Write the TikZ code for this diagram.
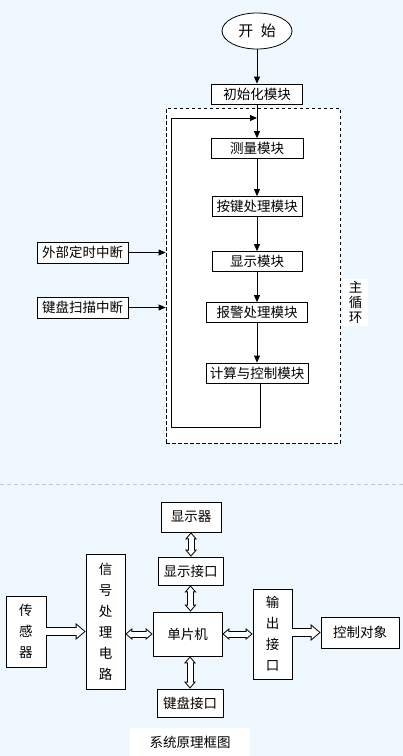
\documentclass[tikz,border=0pt]{standalone}
\usepackage{fontspec}
\setmainfont{Noto Sans CJK SC}
\usetikzlibrary{shapes.geometric,arrows.meta}
\definecolor{paper}{RGB}{240,248,255}
\definecolor{rule}{RGB}{192,197,204}
\tikzset{%
  every block/.style={
    draw,
    fill=white,
    inner sep=0pt,
    minimum height=20pt,
    font=\fontsize{13.5}{15}\selectfont
  },
  block tall/.style={
    align=center,
    font=\fontsize{13.5}{21}\selectfont
  },
  hollow/.style={
    line width=9pt,
    -{Triangle[length=10pt,width=17pt,line width=0pt]},
    postaction={draw=white, line width=7pt, shorten >=1.5pt,
      -{Triangle[length=7.5pt,width=12.7pt,line width=0pt]}}
  },
  hollow both/.style={
    line width=7pt,
    {Triangle[length=7pt,width=12pt,line width=0pt]}-{Triangle[length=7pt,width=12pt,line width=0pt]},
    postaction={draw=white, line width=5pt, shorten >=1.5pt, shorten <=1.5pt,
      {Triangle[length=4.5pt,width=7.7pt,line width=0pt]}-{Triangle[length=4.5pt,width=7.7pt,line width=0pt]}}
  },
}
\begin{document}
\begin{tikzpicture}[x=1pt, y=-1pt, line width=0.8pt, >={Triangle[length=7pt,width=6pt]}]

\fill [paper] (0,0) rectangle (403,756);
\useasboundingbox (0,0) rectangle (403,756);

% main loop
\node [draw, fill=white, dash pattern=on 3.5pt off 2.5pt, minimum width=174pt, minimum height=335pt] (loop) at (253,275.5) {};
\node [fill=white, inner sep=0pt, minimum width=25pt, minimum height=47pt, block tall, font=\fontsize{13.5}{15}\selectfont] (looplabel) at (355.5,302.5) {主\\循\\环};

\node [draw, ellipse, fill=white, minimum width=70pt, minimum height=36pt, font=\fontsize{15}{16}\selectfont] (start) at (257,31) {开\enspace 始};

\foreach \m/\l/\y/\w in {init/初始化模块/94/91, measure/测量模块/148.5/92, key/按键处理模块/206.5/90, show/显示模块/261.5/90, alarm/报警处理模块/312.5/101, calc/计算与控制模块/373/102}
  \node [every block, minimum width=\w pt] (\m) at (257,\y) {\l};

\draw [->] (start) -- (init);
\foreach \a/\b in {init/measure, measure/key, key/show, show/alarm, alarm/calc}
  \draw [->] (\a) -- (\b);

\coordinate (back) at (257,118);
\coordinate (corner) at (171,427);
\draw [->] ([xshift=3pt]calc.south) |- (corner) |- (back);

% interrupts
\foreach \m/\l/\y in {timer/外部定时中断/252.5, scan/键盘扫描中断/307.5}
  \node [every block, minimum width=91pt, minimum height=21pt] (\m) at (82.5,\y) {\l};
\foreach \m in {timer, scan}
  \draw [->] (\m) -- (\m -| loop.west);

\draw [rule, line width=1pt, dash pattern=on 4pt off 3pt] (0,484) -- (403,484);

% system blocks
\foreach \m/\l/\x/\y/\w/\h in {disp/显示器/191/517/60/30, dispif/显示接口/190.5/571/65/28, mcu/单片机/187.5/634/69/44, keyif/键盘接口/190/703/66/28, target/控制对象/360/632.5/78/31}
  \node [every block, minimum width=\w pt, minimum height=\h pt] (\m) at (\x,\y) {\l};

\foreach \m/\l/\x/\y/\w/\h in {sensor/传\\感\\器/26/631.5/40/71, signal/信\\号\\处\\理\\电\\路/105.5/621.5/39/135, outif/输\\出\\接\\口/272.5/634/39/90}
  \node [every block, block tall, minimum width=\w pt, minimum height=\h pt] (\m) at (\x,\y) {\l};

\draw [hollow both] (disp.south) -- (disp.south |- dispif.north);
\draw [hollow both] (dispif.south) -- (dispif.south |- mcu.north);
\draw [hollow both] (keyif.north |- mcu.south) -- (keyif.north);
\draw [hollow both] (signal.east |- mcu.west) -- (mcu.west);
\draw [hollow both] (mcu) -- (outif);
\draw [hollow] (sensor) -- (sensor -| signal.west);
\draw [hollow] (outif.east |- target.west) -- (target.west);

\node [fill=white, minimum width=120pt, minimum height=28pt, font=\fontsize{13.5}{15}\selectfont] (caption) at (190,742) {系统原理框图};

\end{tikzpicture}
\end{document}
